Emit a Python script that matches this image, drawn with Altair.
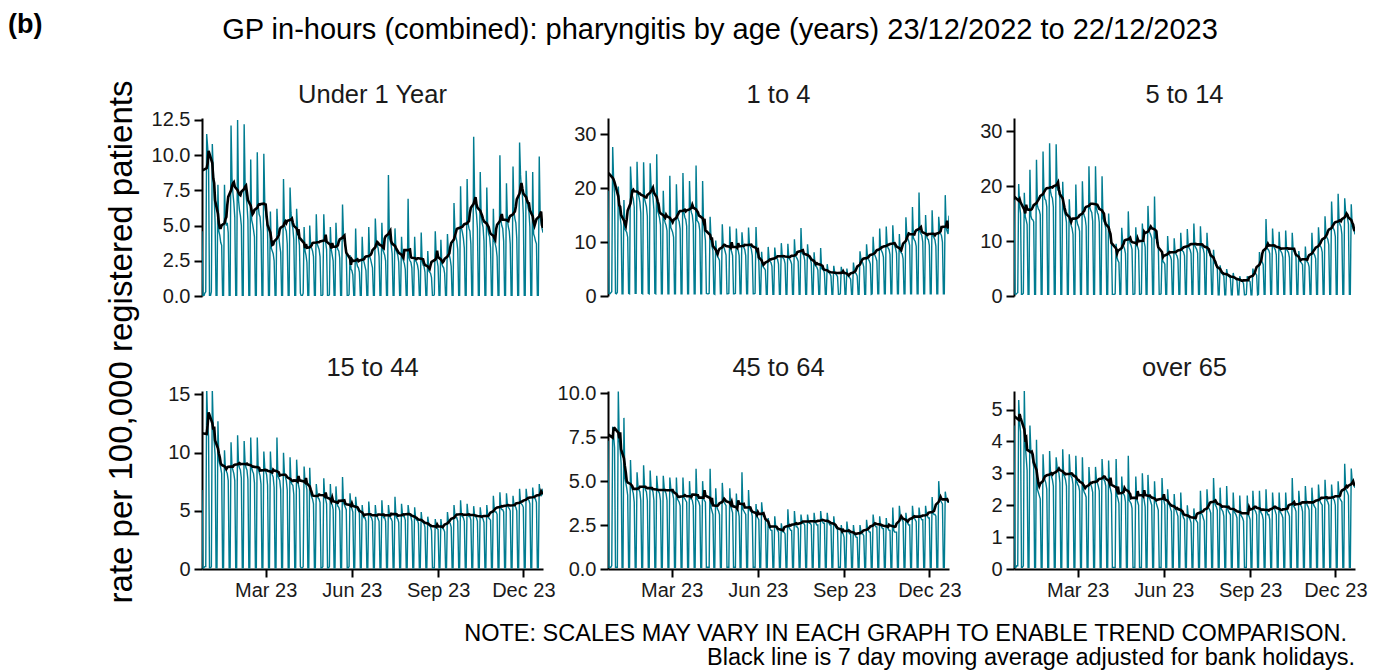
import altair as alt
import pandas as pd

FONT = "Liberation Sans"
TEAL = "#007C91"

START = "2022-12-23"
END = "2023-12-22"
BANK_HOLIDAYS = ["2022-12-26", "2022-12-27", "2023-01-02", "2023-04-07", "2023-04-10",
                 "2023-05-01", "2023-05-08", "2023-05-29", "2023-08-28"]

PANELS = ["Under 1 Year", "1 to 4", "5 to 14", "15 to 44", "45 to 64", "over 65"]
Y_TOP = [12.64, 33.0, 32.4, 15.3, 10.13, 5.58]
Y_TICKS = [[0, 2.5, 5, 7.5, 10, 12.5], [0, 10, 20, 30], [0, 10, 20, 30],
           [0, 5, 10, 15], [0, 2.5, 5, 7.5, 10], [0, 1, 2, 3, 4, 5]]
Y_FORMAT = [".1f", "d", "d", "d", ".1f", "d"]
X_TICKS = ["2023-03-01", "2023-06-01", "2023-09-01", "2023-12-01"]

TITLE = "GP in-hours (combined): pharyngitis by age (years) 23/12/2022 to 22/12/2023"
TAG = "(b)"
Y_TITLE = "rate per 100,000 registered patients"
NOTE_1 = "NOTE: SCALES MAY VARY IN EACH GRAPH TO ENABLE TREND COMPARISON."
NOTE_2 = "Black line is 7 day moving average adjusted for bank holidays."

# Daily rates per 100,000: first value is Fri 23/12/2022, then one row per week (Sat..Fri)
UNDER_1 = [4.6,
    0, 0, 0.2, 0.3, 11.5, 10.6, 9.6,
    0, 0, 0.3, 10.8, 9.0, 7.2, 5.2,
    0, 0, 7.9, 4.6, 4.3, 3.8, 3.6,
    0, 0, 7.9, 5.5, 5.0, 5.2, 4.5,
    0, 0, 12.1, 8.4, 7.3, 6.6, 5.6,
    0, 0, 12.5, 6.8, 6.1, 5.7, 5.0,
    0, 0, 12.2, 8.0, 7.1, 6.5, 5.4,
    0, 0, 9.7, 5.4, 5.1, 4.7, 4.2,
    0, 0, 10.2, 6.4, 5.8, 5.6, 4.6,
    0, 0, 10.1, 6.6, 5.9, 5.4, 4.5,
    0, 0, 6.0, 3.4, 3.2, 3.0, 2.5,
    0, 0, 6.2, 4.5, 4.2, 3.6, 3.1,
    0, 0, 8.3, 5.1, 4.8, 4.6, 3.7,
    0, 0, 7.7, 5.9, 5.1, 4.8, 4.0,
    0, 0, 6.2, 4.8, 4.2, 3.6, 0.2,
    0, 0, 0.2, 4.9, 3.2, 2.9, 2.4,
    0, 0, 5.0, 3.6, 3.4, 3.2, 2.8,
    0, 0, 5.8, 3.7, 3.5, 3.3, 2.8,
    0, 0, 0.1, 5.8, 4.0, 3.8, 3.3,
    0, 0, 0.1, 4.9, 3.3, 2.9, 2.5,
    0, 0, 5.2, 3.6, 3.3, 3.2, 2.7,
    0, 0, 6.5, 4.4, 3.9, 3.7, 3.0,
    0, 0, 0.1, 2.9, 1.9, 1.8, 1.5,
    0, 0, 4.8, 2.4, 2.1, 2.0, 1.7,
    0, 0, 4.2, 2.6, 2.4, 2.1, 1.8,
    0, 0, 4.9, 2.8, 2.6, 2.3, 2.0,
    0, 0, 5.5, 3.9, 3.6, 3.4, 2.8,
    0, 0, 5.2, 3.3, 3.1, 2.9, 2.5,
    0, 0, 8.6, 4.1, 3.9, 3.6, 3.0,
    0, 0, 4.8, 3.3, 3.1, 2.9, 2.4,
    0, 0, 4.2, 2.7, 2.5, 2.3, 1.9,
    0, 0, 6.9, 2.7, 2.5, 2.4, 2.0,
    0, 0, 4.2, 2.5, 2.4, 2.2, 1.8,
    0, 0, 4.5, 2.5, 2.2, 2.1, 1.7,
    0, 0, 3.2, 1.8, 1.7, 1.6, 1.3,
    0, 0, 0.1, 4.6, 2.9, 2.5, 2.1,
    0, 0, 4.0, 2.3, 2.1, 2.0, 1.6,
    0, 0, 4.4, 3.1, 2.9, 2.6, 2.1,
    0, 0, 6.6, 4.6, 4.2, 3.9, 3.3,
    0, 0, 7.8, 4.8, 4.5, 4.1, 3.4,
    0, 0, 8.3, 5.2, 4.8, 4.6, 3.7,
    0, 0, 11.3, 6.9, 6.3, 5.8, 4.8,
    0, 0, 8.8, 5.7, 5.2, 4.9, 3.9,
    0, 0, 7.7, 4.8, 4.4, 4.2, 3.4,
    0, 0, 6.2, 3.9, 3.7, 3.4, 2.8,
    0, 0, 10.0, 5.4, 5.0, 4.8, 3.9,
    0, 0, 8.0, 5.4, 4.9, 4.6, 3.7,
    0, 0, 9.2, 6.0, 5.5, 5.2, 4.1,
    0, 0, 10.9, 8.6, 7.6, 7.2, 5.8,
    0, 0, 8.9, 6.9, 6.3, 6.0, 4.9,
    0, 0, 8.8, 4.4, 4.2, 3.9, 3.7,
    0, 0, 9.9, 5.6, 5.2, 4.8, 4.5,
]

AGE_1_4 = [19.5,
    0.5, 0.4, 0.6, 0.8, 27.6, 21.5, 19.0,
    0.5, 0.4, 0.7, 20.3, 17.0, 14.6, 13.1,
    0.4, 0.4, 17.8, 12.4, 12.1, 11.8, 10.9,
    0.5, 0.4, 24.0, 20.5, 18.6, 18.0, 16.5,
    0.5, 0.5, 24.9, 19.0, 18.4, 17.4, 15.4,
    0.5, 0.4, 24.8, 18.0, 17.3, 16.6, 14.8,
    0.5, 0.4, 24.6, 20.3, 19.4, 18.3, 16.0,
    0.5, 0.4, 26.3, 15.8, 15.2, 14.5, 13.2,
    0.4, 0.4, 19.5, 14.2, 13.6, 13.1, 12.1,
    0.4, 0.4, 22.3, 12.7, 12.3, 11.8, 10.9,
    0.4, 0.4, 20.7, 14.9, 14.2, 13.8, 12.4,
    0.4, 0.4, 22.8, 15.5, 14.6, 14.2, 12.9,
    0.4, 0.4, 21.3, 16.4, 15.5, 15.0, 13.3,
    0.4, 0.4, 24.2, 14.0, 13.8, 13.4, 12.1,
    0.4, 0.4, 21.3, 13.4, 11.9, 10.3, 0.5,
    0.4, 0.4, 0.5, 14.7, 10.6, 9.2, 8.4,
    0.4, 0.3, 10.3, 7.8, 7.3, 7.0, 6.6,
    0.4, 0.4, 13.3, 9.4, 8.9, 8.3, 7.6,
    0.4, 0.4, 0.5, 12.9, 8.7, 8.2, 7.5,
    0.4, 0.4, 0.5, 12.5, 8.8, 8.4, 7.5,
    0.4, 0.4, 11.8, 9.6, 9.0, 8.6, 7.5,
    0.4, 0.4, 12.7, 9.5, 9.1, 8.7, 7.5,
    0.4, 0.4, 0.5, 12.8, 8.1, 7.5, 6.4,
    0.3, 0.3, 8.2, 5.6, 5.3, 5.1, 4.8,
    0.3, 0.3, 9.1, 6.8, 6.4, 6.2, 5.5,
    0.3, 0.3, 9.0, 7.3, 7.0, 6.8, 5.9,
    0.3, 0.3, 9.8, 7.4, 7.0, 6.8, 6.0,
    0.3, 0.3, 9.7, 7.1, 6.8, 6.5, 5.9,
    0.3, 0.3, 10.5, 7.5, 7.2, 6.9, 6.4,
    0.3, 0.3, 12.6, 8.0, 7.8, 7.5, 6.6,
    0.3, 0.3, 9.6, 7.4, 7.0, 6.9, 6.1,
    0.3, 0.3, 8.1, 5.8, 5.5, 5.3, 4.8,
    0.3, 0.3, 8.9, 5.1, 4.9, 4.8, 4.3,
    0.3, 0.3, 5.9, 4.5, 4.3, 4.1, 3.7,
    0.3, 0.3, 5.6, 4.3, 4.1, 3.9, 3.6,
    0.3, 0.3, 0.4, 5.4, 4.3, 4.2, 4.1,
    0.3, 0.3, 5.1, 3.8, 3.6, 3.4, 3.1,
    0.3, 0.3, 6.2, 4.7, 4.3, 4.1, 3.7,
    0.3, 0.3, 8.3, 6.8, 6.4, 6.1, 5.4,
    0.3, 0.3, 9.6, 7.2, 6.8, 6.5, 5.9,
    0.3, 0.4, 11.0, 7.9, 7.5, 7.1, 6.5,
    0.4, 0.4, 12.5, 8.9, 8.4, 8.0, 7.2,
    0.4, 0.4, 12.9, 9.4, 8.9, 8.6, 7.7,
    0.4, 0.4, 13.1, 9.9, 9.3, 8.8, 7.9,
    0.4, 0.4, 11.5, 8.3, 8.0, 7.8, 6.9,
    0.4, 0.4, 14.6, 11.2, 10.6, 10.2, 9.4,
    0.4, 0.4, 16.5, 10.8, 10.4, 10.1, 9.2,
    0.4, 0.4, 19.2, 12.0, 11.6, 11.2, 10.0,
    0.4, 0.4, 15.0, 11.1, 10.6, 10.4, 9.4,
    0.4, 0.4, 15.9, 11.2, 10.8, 10.4, 9.2,
    0.4, 0.4, 14.7, 12.5, 11.6, 11.2, 10.0,
    0.4, 0.4, 18.7, 12.6, 12.0, 11.5, 14.9,
]

AGE_5_14 = [17.5,
    0.4, 0.3, 0.5, 0.6, 20.4, 16.5, 15.0,
    0.3, 0.3, 0.5, 18.8, 14.5, 13.8, 13.0,
    0.3, 0.3, 23.0, 14.6, 14.0, 13.9, 13.5,
    0.3, 0.3, 24.8, 16.5, 15.8, 15.6, 14.8,
    0.3, 0.3, 26.3, 18.5, 17.6, 17.4, 16.2,
    0.3, 0.3, 27.8, 19.0, 18.2, 17.8, 16.2,
    0.3, 0.3, 27.6, 20.0, 19.2, 19.0, 17.7,
    0.3, 0.3, 20.8, 16.0, 15.2, 14.6, 13.4,
    0.3, 0.3, 17.6, 13.6, 12.8, 12.3, 11.2,
    0.3, 0.3, 20.3, 13.8, 13.0, 12.6, 11.8,
    0.3, 0.3, 20.9, 15.2, 14.6, 14.1, 12.7,
    0.3, 0.3, 23.6, 16.1, 15.5, 15.2, 13.6,
    0.3, 0.3, 23.6, 16.0, 15.2, 14.8, 13.4,
    0.3, 0.3, 21.8, 14.2, 13.6, 13.2, 12.2,
    0.3, 0.3, 15.0, 11.5, 10.5, 9.8, 0.3,
    0.3, 0.3, 0.4, 9.5, 7.0, 6.4, 6.1,
    0.3, 0.3, 12.4, 9.8, 9.0, 8.6, 7.7,
    0.3, 0.3, 15.4, 10.3, 9.6, 9.2, 8.5,
    0.3, 0.3, 0.4, 12.5, 9.2, 8.9, 8.3,
    0.3, 0.3, 0.4, 13.2, 10.1, 9.8, 8.9,
    0.3, 0.3, 16.4, 12.0, 11.5, 11.1, 10.5,
    0.3, 0.3, 18.1, 10.6, 10.4, 10.4, 9.5,
    0.3, 0.3, 0.4, 7.8, 6.3, 6.1, 5.8,
    0.3, 0.3, 10.9, 7.8, 7.5, 7.2, 6.6,
    0.3, 0.3, 10.5, 8.0, 7.6, 7.3, 6.6,
    0.3, 0.3, 11.5, 8.5, 8.2, 8.0, 7.3,
    0.3, 0.3, 12.2, 9.0, 8.7, 8.4, 7.7,
    0.3, 0.3, 13.2, 9.2, 8.8, 8.5, 7.8,
    0.3, 0.3, 12.7, 9.2, 8.8, 8.6, 7.7,
    0.3, 0.3, 11.5, 8.4, 8.0, 7.7, 6.9,
    0.3, 0.3, 8.4, 6.1, 5.8, 5.6, 5.1,
    0.2, 0.2, 5.6, 4.3, 4.1, 3.9, 3.6,
    0.2, 0.2, 4.9, 3.8, 3.6, 3.5, 3.2,
    0.2, 0.2, 4.2, 3.3, 3.2, 3.0, 2.8,
    0.2, 0.2, 3.6, 2.8, 2.7, 2.6, 2.3,
    0.2, 0.2, 0.3, 3.6, 3.0, 2.8, 2.6,
    0.2, 0.2, 5.0, 4.0, 4.1, 4.1, 3.8,
    0.2, 0.3, 8.0, 6.3, 6.3, 6.2, 5.7,
    0.3, 0.3, 14.0, 9.0, 8.5, 8.3, 7.7,
    0.3, 0.3, 12.3, 9.1, 8.7, 8.4, 7.5,
    0.3, 0.3, 11.7, 8.4, 8.1, 7.8, 7.0,
    0.3, 0.3, 11.9, 8.5, 8.2, 7.9, 7.0,
    0.3, 0.3, 11.5, 8.5, 8.1, 7.9, 7.0,
    0.3, 0.3, 8.2, 6.4, 6.2, 6.0, 5.7,
    0.3, 0.3, 9.0, 6.5, 6.2, 6.0, 5.3,
    0.3, 0.3, 11.5, 8.1, 7.7, 7.4, 6.8,
    0.3, 0.3, 12.5, 9.6, 9.1, 8.8, 8.0,
    0.3, 0.3, 14.5, 11.2, 10.7, 10.3, 9.3,
    0.3, 0.3, 17.2, 12.8, 12.3, 11.9, 10.8,
    0.3, 0.3, 18.6, 13.6, 13.0, 12.6, 11.2,
    0.3, 0.3, 17.8, 15.3, 14.6, 14.2, 13.1,
    0.3, 0.3, 16.7, 12.8, 12.3, 12.0, 11.2,
]

AGE_15_44 = [6.8,
    0.1, 0.1, 0.2, 0.2, 15.6, 12.6, 11.4,
    0.1, 0.1, 0.2, 15.4, 12.3, 11.0, 9.8,
    0.1, 0.1, 12.7, 9.4, 9.0, 8.7, 8.2,
    0.1, 0.1, 10.2, 8.6, 8.4, 8.2, 7.6,
    0.1, 0.1, 10.9, 8.8, 8.5, 8.2, 7.6,
    0.1, 0.1, 11.5, 9.0, 8.7, 8.5, 7.8,
    0.1, 0.1, 11.0, 9.1, 8.7, 8.5, 7.7,
    0.1, 0.1, 11.3, 8.7, 8.4, 8.2, 7.4,
    0.1, 0.1, 11.3, 8.6, 8.3, 8.0, 7.3,
    0.1, 0.1, 10.1, 8.7, 8.4, 8.1, 7.2,
    0.1, 0.1, 10.1, 8.4, 8.1, 7.9, 7.0,
    0.1, 0.1, 11.3, 8.0, 7.8, 7.6, 6.8,
    0.1, 0.1, 10.0, 8.2, 7.9, 7.6, 6.8,
    0.1, 0.1, 9.6, 7.5, 7.3, 7.2, 6.4,
    0.1, 0.1, 9.4, 7.8, 7.2, 6.8, 0.2,
    0.1, 0.1, 0.2, 8.8, 7.5, 7.3, 6.8,
    0.1, 0.1, 8.7, 6.5, 6.2, 6.0, 5.6,
    0.1, 0.1, 7.3, 6.4, 6.1, 6.0, 5.7,
    0.1, 0.1, 0.2, 7.8, 6.2, 6.0, 5.6,
    0.1, 0.1, 0.2, 7.3, 5.7, 5.5, 5.1,
    0.1, 0.1, 7.1, 5.7, 5.4, 5.3, 5.0,
    0.1, 0.1, 7.9, 5.7, 5.5, 5.3, 5.1,
    0.1, 0.1, 0.2, 6.5, 5.4, 5.2, 4.9,
    0.1, 0.1, 6.2, 5.4, 5.1, 5.0, 4.8,
    0.1, 0.1, 5.5, 4.6, 4.4, 4.4, 4.1,
    0.1, 0.1, 5.8, 4.7, 4.5, 4.4, 4.1,
    0.1, 0.1, 5.5, 4.6, 4.5, 4.3, 4.1,
    0.1, 0.1, 5.9, 4.6, 4.4, 4.4, 4.1,
    0.1, 0.1, 5.5, 4.7, 4.4, 4.3, 4.1,
    0.1, 0.1, 6.2, 4.6, 4.4, 4.3, 4.0,
    0.1, 0.1, 5.6, 4.7, 4.5, 4.5, 4.2,
    0.1, 0.1, 5.5, 4.8, 4.6, 4.5, 4.1,
    0.1, 0.1, 5.3, 4.4, 4.2, 4.2, 3.9,
    0.1, 0.1, 4.9, 4.1, 4.0, 3.9, 3.6,
    0.1, 0.1, 4.5, 3.9, 3.7, 3.6, 3.3,
    0.1, 0.1, 0.1, 4.3, 3.6, 3.5, 3.4,
    0.1, 0.1, 4.3, 3.6, 3.5, 3.4, 3.2,
    0.1, 0.1, 4.9, 4.1, 4.0, 3.9, 3.6,
    0.1, 0.1, 5.5, 4.6, 4.4, 4.4, 4.1,
    0.1, 0.1, 5.9, 4.6, 4.5, 4.4, 4.1,
    0.1, 0.1, 5.6, 4.7, 4.5, 4.5, 4.2,
    0.1, 0.1, 5.4, 4.6, 4.5, 4.4, 4.1,
    0.1, 0.1, 5.3, 4.5, 4.4, 4.3, 4.0,
    0.1, 0.1, 5.5, 4.6, 4.4, 4.3, 4.2,
    0.1, 0.1, 6.3, 5.1, 4.9, 4.9, 4.7,
    0.1, 0.1, 6.6, 5.3, 5.1, 5.1, 4.9,
    0.1, 0.1, 6.5, 5.5, 5.3, 5.2, 5.0,
    0.1, 0.1, 6.3, 5.5, 5.4, 5.3, 5.0,
    0.1, 0.1, 6.9, 5.7, 5.6, 5.5, 5.3,
    0.1, 0.1, 6.9, 6.1, 6.0, 5.9, 5.6,
    0.1, 0.1, 7.0, 6.2, 6.1, 6.0, 5.7,
    0.1, 0.1, 7.3, 6.5, 6.3, 6.4, 6.9,
]

AGE_45_64 = [7.3,
    0.1, 0.1, 0.1, 0.2, 8.1, 7.6, 6.9,
    0.1, 0.1, 0.1, 10.1, 7.4, 6.8, 6.0,
    0.1, 0.1, 8.6, 5.2, 4.9, 4.6, 4.2,
    0.1, 0.1, 6.2, 4.7, 4.5, 4.3, 3.8,
    0.1, 0.1, 5.5, 4.7, 4.5, 4.4, 3.9,
    0.1, 0.1, 5.9, 4.7, 4.5, 4.4, 3.9,
    0.1, 0.1, 5.6, 4.6, 4.5, 4.4, 3.9,
    0.1, 0.1, 5.3, 4.6, 4.4, 4.3, 3.9,
    0.1, 0.1, 5.3, 4.6, 4.4, 4.3, 3.9,
    0.1, 0.1, 5.2, 4.6, 4.4, 4.3, 4.0,
    0.1, 0.1, 5.2, 4.0, 3.9, 3.8, 3.6,
    0.1, 0.1, 5.2, 4.1, 4.0, 3.9, 3.8,
    0.1, 0.1, 5.0, 4.0, 4.0, 3.9, 3.6,
    0.1, 0.1, 5.7, 4.0, 3.9, 3.8, 3.6,
    0.1, 0.1, 5.0, 4.0, 3.9, 3.8, 0.1,
    0.1, 0.1, 0.1, 5.7, 3.5, 3.3, 3.1,
    0.1, 0.1, 4.6, 3.6, 3.4, 3.3, 3.1,
    0.1, 0.1, 4.9, 4.0, 3.8, 3.7, 3.6,
    0.1, 0.1, 0.1, 4.6, 3.6, 3.4, 3.2,
    0.1, 0.1, 0.1, 4.3, 3.4, 3.3, 3.0,
    0.1, 0.1, 5.5, 3.4, 3.3, 3.2, 3.1,
    0.1, 0.1, 4.5, 3.4, 3.3, 3.3, 3.0,
    0.1, 0.1, 0.1, 3.7, 3.0, 2.9, 2.8,
    0.1, 0.1, 3.8, 3.2, 3.0, 3.0, 2.9,
    0.1, 0.1, 2.9, 2.4, 2.3, 2.2, 2.2,
    0.1, 0.1, 3.0, 2.4, 2.3, 2.2, 2.1,
    0.1, 0.1, 2.6, 2.2, 2.1, 2.1, 2.0,
    0.1, 0.1, 3.4, 2.4, 2.3, 2.2, 2.2,
    0.1, 0.1, 3.3, 2.6, 2.4, 2.4, 2.3,
    0.1, 0.1, 3.1, 2.7, 2.6, 2.6, 2.5,
    0.1, 0.1, 3.1, 2.7, 2.6, 2.6, 2.5,
    0.1, 0.1, 3.2, 2.7, 2.6, 2.5, 2.5,
    0.1, 0.1, 3.3, 2.8, 2.7, 2.6, 2.6,
    0.1, 0.1, 3.2, 2.7, 2.6, 2.5, 2.5,
    0.1, 0.1, 3.0, 2.5, 2.4, 2.3, 2.3,
    0.1, 0.1, 0.1, 2.5, 2.1, 2.0, 1.8,
    0.1, 0.1, 2.7, 2.2, 2.1, 2.0, 2.0,
    0.1, 0.1, 2.5, 2.0, 1.9, 1.8, 1.8,
    0.1, 0.1, 2.5, 2.1, 2.0, 2.0, 1.9,
    0.1, 0.1, 2.8, 2.3, 2.2, 2.1, 2.1,
    0.1, 0.1, 3.1, 2.6, 2.5, 2.4, 2.4,
    0.1, 0.1, 3.0, 2.5, 2.4, 2.3, 2.3,
    0.1, 0.1, 2.9, 2.4, 2.3, 2.2, 2.2,
    0.1, 0.1, 3.5, 2.2, 2.1, 2.1, 2.1,
    0.1, 0.1, 3.6, 3.0, 2.9, 2.8, 2.7,
    0.1, 0.1, 3.2, 2.7, 2.6, 2.5, 2.5,
    0.1, 0.1, 3.6, 3.0, 2.9, 2.8, 2.7,
    0.1, 0.1, 3.5, 3.0, 2.9, 2.8, 2.8,
    0.1, 0.1, 3.6, 3.1, 3.0, 2.9, 2.9,
    0.1, 0.1, 4.1, 3.2, 3.1, 3.1, 3.0,
    0.1, 0.1, 5.0, 4.1, 3.9, 3.8, 3.7,
    0.1, 0.1, 4.4, 4.0, 3.9, 3.8, 3.8,
]

OVER_65 = [4.5,
    0.05, 0.05, 0.1, 0.1, 5.3, 4.6, 4.3,
    0.05, 0.05, 0.1, 5.6, 3.9, 3.5, 3.1,
    0.05, 0.05, 4.5, 3.7, 3.6, 3.4, 3.2,
    0.05, 0.05, 4.05, 2.5, 2.4, 2.3, 2.2,
    0.05, 0.05, 3.6, 2.9, 2.8, 2.7, 2.5,
    0.05, 0.05, 3.7, 3.0, 2.9, 2.8, 2.6,
    0.05, 0.05, 3.5, 3.2, 3.1, 3.0, 2.7,
    0.05, 0.05, 3.75, 2.95, 2.9, 2.8, 2.6,
    0.05, 0.05, 3.6, 3.0, 2.9, 2.85, 2.65,
    0.05, 0.05, 3.55, 2.75, 2.65, 2.6, 2.45,
    0.05, 0.05, 3.5, 2.5, 2.4, 2.35, 2.25,
    0.05, 0.05, 3.2, 2.7, 2.65, 2.55, 2.4,
    0.05, 0.05, 3.2, 2.8, 2.7, 2.6, 2.45,
    0.05, 0.05, 3.45, 2.9, 2.8, 2.75, 2.6,
    0.05, 0.05, 3.4, 2.6, 2.5, 2.35, 0.05,
    0.05, 0.05, 0.05, 3.45, 2.3, 2.2, 2.05,
    0.05, 0.05, 2.9, 2.4, 2.35, 2.3, 2.1,
    0.05, 0.05, 3.55, 2.15, 2.1, 2.05, 1.9,
    0.05, 0.05, 0.05, 2.9, 2.2, 2.1, 2.0,
    0.05, 0.05, 0.05, 3.0, 2.3, 2.15, 1.95,
    0.05, 0.05, 2.95, 2.25, 2.2, 2.1, 2.0,
    0.05, 0.05, 2.75, 2.15, 2.05, 1.95, 1.85,
    0.05, 0.05, 0.05, 2.85, 2.2, 2.15, 2.0,
    0.05, 0.05, 2.5, 2.05, 2.0, 1.9, 1.8,
    0.05, 0.05, 2.35, 1.9, 1.85, 1.75, 1.65,
    0.05, 0.05, 2.4, 1.75, 1.7, 1.6, 1.55,
    0.05, 0.05, 2.0, 1.65, 1.6, 1.55, 1.45,
    0.05, 0.05, 1.9, 1.6, 1.55, 1.5, 1.45,
    0.05, 0.05, 2.45, 1.75, 1.7, 1.6, 1.5,
    0.05, 0.05, 2.5, 2.0, 1.9, 1.85, 1.75,
    0.05, 0.05, 2.85, 2.1, 2.0, 1.95, 1.85,
    0.05, 0.05, 2.55, 1.9, 1.85, 1.8, 1.65,
    0.05, 0.05, 2.6, 1.9, 1.8, 1.75, 1.7,
    0.05, 0.05, 2.4, 1.8, 1.75, 1.7, 1.6,
    0.05, 0.05, 2.3, 1.7, 1.65, 1.6, 1.5,
    0.05, 0.05, 0.05, 2.3, 1.7, 1.65, 1.55,
    0.05, 0.05, 2.45, 1.95, 1.85, 1.8, 1.7,
    0.05, 0.05, 2.45, 1.8, 1.75, 1.7, 1.55,
    0.05, 0.05, 2.5, 1.8, 1.7, 1.7, 1.55,
    0.05, 0.05, 2.4, 1.95, 1.9, 1.8, 1.7,
    0.05, 0.05, 2.4, 1.8, 1.75, 1.7, 1.6,
    0.05, 0.05, 2.4, 1.9, 1.8, 1.75, 1.65,
    0.05, 0.05, 2.85, 2.0, 1.95, 1.9, 1.8,
    0.05, 0.05, 2.45, 2.05, 2.0, 1.95, 1.8,
    0.05, 0.05, 2.6, 2.1, 2.0, 1.95, 1.85,
    0.05, 0.05, 2.55, 2.1, 2.0, 1.95, 1.9,
    0.05, 0.05, 2.65, 2.2, 2.1, 2.05, 2.0,
    0.05, 0.05, 2.8, 2.2, 2.15, 2.1, 2.0,
    0.05, 0.05, 2.65, 2.25, 2.2, 2.15, 2.0,
    0.05, 0.05, 2.75, 2.3, 2.2, 2.15, 2.1,
    0.05, 0.05, 3.3, 2.55, 2.45, 2.4, 2.3,
    0.05, 0.05, 3.15, 2.75, 2.7, 2.6, 2.55,
]

SERIES = [UNDER_1, AGE_1_4, AGE_5_14, AGE_15_44, AGE_45_64, OVER_65]

# ---------------------------------------------------------------- data table
dates = pd.date_range(START, END, freq="D")
holidays = pd.to_datetime(BANK_HOLIDAYS)
workday = ((dates.dayofweek < 5) & (~dates.isin(holidays))).astype(int)
frames = []
for name, vals in zip(PANELS, SERIES):
    assert len(vals) == len(dates), (name, len(vals))
    frames.append(pd.DataFrame({"panel": name, "date": dates, "rate": vals, "work": workday}))
df = pd.concat(frames, ignore_index=True)


def dt(s):
    return alt.DateTime(year=int(s[:4]), month=int(s[5:7]), date=int(s[8:10]))


def note(text, size, x, y, align="left", weight="normal", angle=0, color="black"):
    kw = dict(fontSize=size, align=align, baseline="alphabetic", color=color,
              fontWeight=weight)
    if angle:
        kw["angle"] = angle
    return alt.Chart(pd.DataFrame({"label": [text]})).mark_text(**kw).encode(
        text="label:N", x=alt.value(x), y=alt.value(y))


W, H = 341, 178
TICK_FS = 20


def panel(i):
    d = df[df["panel"] == PANELS[i]]
    if i >= 3:
        xaxis = alt.Axis(values=[dt(s) for s in X_TICKS], format="%b %y", title=None,
                         grid=False, labelFontSize=TICK_FS, labelColor="#1a1a1a",
                         labelPadding=3, tickSize=8, tickWidth=2, tickColor="black",
                         domainWidth=2, domainColor="black", labelFlush=False,
                         labelOverlap=False)
    else:
        xaxis = None
    xs = alt.Scale(domain=[dt(START), dt(END)])
    ys = alt.Scale(domain=[0, Y_TOP[i]], nice=False, zero=True)
    yaxis = alt.Axis(values=Y_TICKS[i], format=Y_FORMAT[i], title=None, grid=False,
                     labelFontSize=TICK_FS, labelColor="#1a1a1a", labelPadding=4,
                     tickSize=8, tickWidth=2, tickColor="black",
                     domainWidth=2, domainColor="black", labelOverlap=False,
                     labelSeparation=0)
    teal = alt.Chart(d).mark_line(color=TEAL, strokeWidth=1.4, clip=True).encode(
        x=alt.X("date:T", scale=xs, axis=xaxis),
        y=alt.Y("rate:Q", scale=ys, axis=yaxis),
    )
    black = alt.Chart(d).transform_filter("datum.work == 1").transform_window(
        ma="mean(rate)", frame=[-2, 2], sort=[alt.SortField("date")]
    ).mark_line(color="black", strokeWidth=2.6, clip=True).encode(
        x=alt.X("date:T", scale=xs, axis=xaxis),
        y=alt.Y("ma:Q", scale=ys, axis=yaxis),
    )
    layers = [teal, black, note(PANELS[i], 25.5, W / 2, -15, align="center", color="#1a1a1a")]
    if i == 0:
        layers.append(note(TAG, 27, -194, -85, weight="bold"))
        layers.append(note(TITLE, 29, 518, -79, align="center"))
        layers.append(note(Y_TITLE, 33, -70, 224, align="center", angle=270))
    if i == 5:
        layers.append(note(NOTE_1, 23.5, 333, 250, align="right"))
        layers.append(note(NOTE_2, 23.5, 341, 274, align="right"))
    return alt.layer(*layers).properties(width=W, height=H)


chart = alt.concat(*[panel(i) for i in range(6)], columns=3,
                   spacing={"row": 95, "column": 65}, bounds="flush").properties(
    padding={"left": 0, "top": 3, "right": 5, "bottom": 0}
).configure_view(strokeWidth=0).configure_axis(
    labelFont=FONT, titleFont=FONT
).configure_text(font=FONT)

chart.save("out.html", embed_options={"renderer": "svg", "actions": False})
